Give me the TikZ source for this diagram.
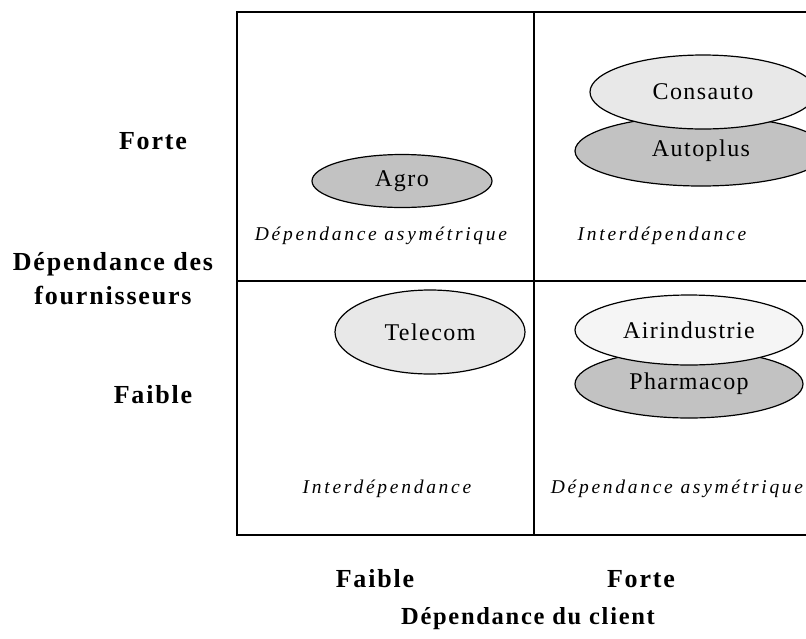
\documentclass[tikz,border=0pt]{standalone}
\usepackage{fontspec}
\setmainfont{Liberation Serif}
\newfontfamily\axisfont[LetterSpace=7]{Liberation Serif}
\newfontfamily\zonefont[LetterSpace=14]{Liberation Serif}
\newfontfamily\firmfont[LetterSpace=6]{Liberation Serif}
\usetikzlibrary{shapes.geometric}
\definecolor{darkfill}{gray}{0.76}
\definecolor{lightfill}{gray}{0.91}
\definecolor{palefill}{gray}{0.96}
\tikzset{
  firm/.style={ellipse, draw=black, line width=1.2pt, inner sep=0pt, font=\firmfont\fontsize{24}{27}\selectfont},
  axislabel/.style={anchor=base, inner sep=0pt, font=\axisfont\bfseries\fontsize{26}{30}\selectfont},
  zonelabel/.style={anchor=base, inner sep=0pt, font=\zonefont\itshape\fontsize{19.5}{23}\selectfont},
  gridline/.style={line width=2.6pt, line cap=rect}
}
\begin{document}
\begin{tikzpicture}[x=1pt, y=-1pt]
\useasboundingbox (0,0) rectangle (806,638);
\clip (0,0) rectangle (806,638);
% grid
\draw[gridline] (237,12) -- (830,12);
\draw[gridline] (237,12) -- (237,535) -- (830,535);
\draw[gridline] (534,12) -- (534,535);
\draw[gridline] (237,281) -- (830,281);
% firms
\node[firm, fill=darkfill, minimum width=180pt, minimum height=53pt] (agro) at (402,181) {Agro};
\node[firm, fill=lightfill, minimum width=190pt, minimum height=84pt] (telecom) at (430,332) {Telecom};
\node[firm, fill=darkfill, minimum width=252pt, minimum height=70pt] (autoplus) at (701,151) {Autoplus};
\node[firm, fill=lightfill, minimum width=226pt, minimum height=74pt] (consauto) at (703,92) {Consauto};
\node[firm, fill=darkfill, minimum width=228pt, minimum height=68pt] (pharmacop) at (689,384) {Pharmacop};
\node[firm, fill=palefill, minimum width=228pt, minimum height=70pt] (airind) at (689,330) {Airindustrie};
% zone labels
\node[zonelabel] (z1) at (381,240) {Dépendance asymétrique};
\node[zonelabel] (z2) at (662,240) {Interdépendance};
\node[zonelabel] (z3) at (387,493) {Interdépendance};
\node[zonelabel] (z4) at (677,493) {Dépendance asymétrique};
% axis labels
\node[axislabel] (yhigh) at (153,149) {Forte};
\node[axislabel] (ytitle1) at (113,270) {Dépendance des};
\node[axislabel] (ytitle2) at (113,304) {fournisseurs};
\node[axislabel] (ylow) at (153,403) {Faible};
\node[axislabel] (xlow) at (375,587) {Faible};
\node[axislabel] (xhigh) at (641,587) {Forte};
\node[axislabel, font=\axisfont\bfseries\fontsize{24.5}{28}\selectfont] (xtitle) at (528,624) {Dépendance du client};
\end{tikzpicture}
\end{document}
